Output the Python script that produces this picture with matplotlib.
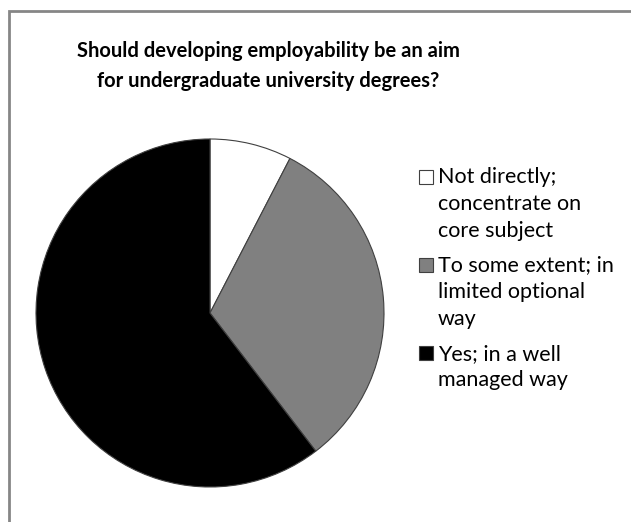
import matplotlib.pyplot as plt
from matplotlib.patches import Rectangle

plt.rcParams['font.family'] = ['Lato', 'DejaVu Sans']

title = "Should developing employability be an aim\nfor undergraduate university degrees?"
labels = ["Not directly;\nconcentrate on\ncore subject",
          "To some extent; in\nlimited optional\nway",
          "Yes; in a well\nmanaged way"]
shares = [7.6, 32.0, 60.4]
colors = ["#ffffff", "#808080", "#000000"]

W, H = 631, 522
fig = plt.figure(figsize=(W / 100, H / 100), dpi=100)

# chart frame, cropped on the right and bottom like the original screenshot
fig.patches.append(Rectangle((8.5 / W, -0.1), 1.2, 1.1 - 11 / H,
                             transform=fig.transFigure, fill=False,
                             edgecolor="#868686", linewidth=2))

ax = fig.add_axes([36 / W, (H - 487) / H, 348 / W, 348 / H])
ax.pie(shares, colors=colors, startangle=90, counterclock=False,
       wedgeprops=dict(edgecolor="#404040", linewidth=0.8))
ax.set_xlim(-1.0, 1.0)
ax.set_ylim(-1.0, 1.0)
ax.axis("off")

fig.text(268 / W, 1 - 66 / H, title, ha="center", va="center",
         fontsize=14.5, fontweight="bold", linespacing=1.65)

# legend drawn by hand so the marker sits next to the first line
first_line = [177, 265, 353]
for lab, col, y0 in zip(labels, colors, first_line):
    nlines = lab.count("\n") + 1
    fig.patches.append(Rectangle((419 / W, 1 - (y0 + 7) / H), 14 / W, 14 / H,
                                 transform=fig.transFigure, facecolor=col,
                                 edgecolor="#404040", linewidth=0.8))
    yc = y0 + 13 * (nlines - 1)
    fig.text(438 / W, 1 - (yc + 1) / H, lab, ha="left", va="center",
             fontsize=15.5, linespacing=1.42)

fig.savefig("out.png", dpi=100)
